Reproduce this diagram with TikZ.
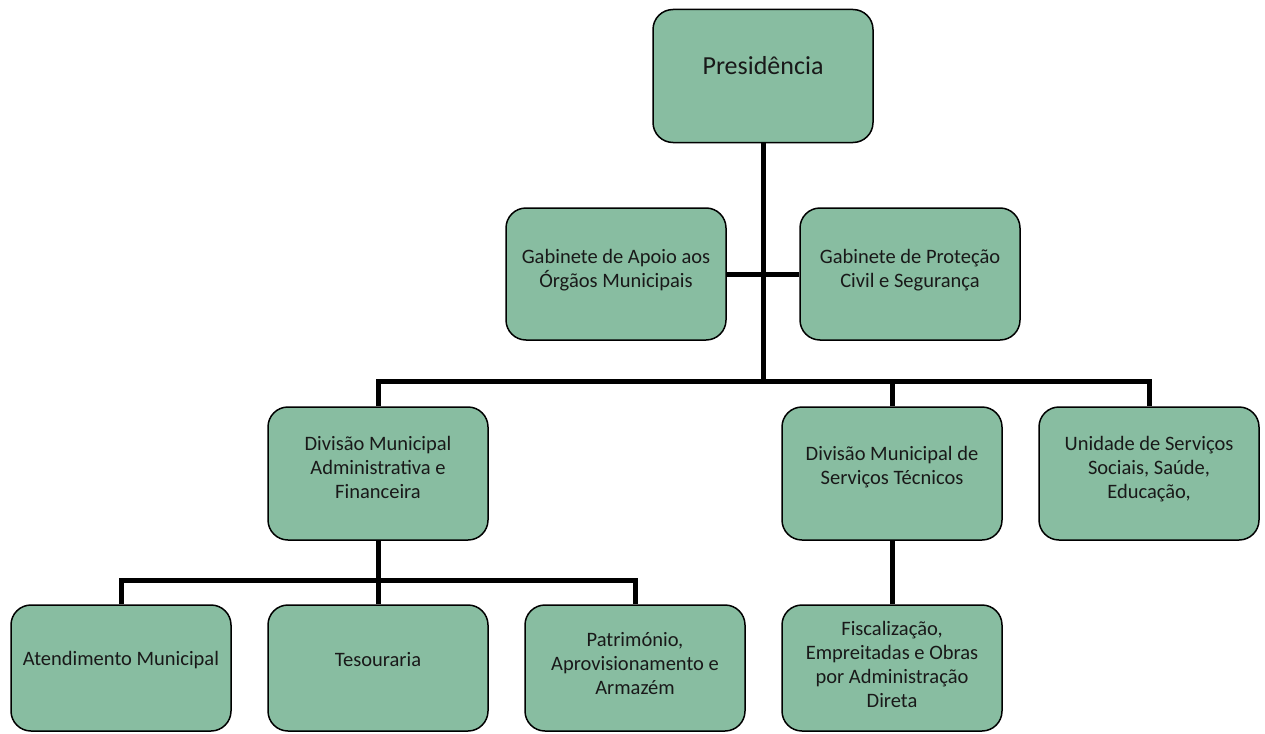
\documentclass[tikz,border=0pt]{standalone}
\usepackage{fontspec}
\setmainfont{Carlito}
\definecolor{boxgreen}{RGB}{136,189,161}
\tikzset{
  orgbox/.style={draw=black, line width=1.5pt, fill=boxgreen, rounded corners=20pt,
    minimum width=220pt, minimum height=133pt, inner sep=0pt},
  lowbox/.style={orgbox, minimum height=126pt},
  boxtext/.style={align=center, font=\fontsize{20.5pt}{24pt}\selectfont, inner sep=0pt, text=black!90},
  conn/.style={draw=black, line width=5pt, line join=miter}
}
\begin{document}
\begin{tikzpicture}[x=1pt,y=-1pt]
\useasboundingbox (0,0) rectangle (1265,733);
% boxes
\node[orgbox] (pres) at (763,76) {};
\node[orgbox, minimum height=132pt] (apoio) at (616,274) {};
\node[orgbox, minimum height=132pt] (protec) at (910,274) {};
\node[orgbox] (divadm) at (378,473.5) {};
\node[orgbox] (divtec) at (892,473.5) {};
\node[orgbox] (unid) at (1149,473.5) {};
\node[lowbox] (atend) at (121,668) {};
\node[lowbox] (tes) at (378,668) {};
\node[lowbox] (patr) at (635,668) {};
\node[lowbox] (fisc) at (892,668) {};
% junctions
\coordinate (j1) at (763,381);
\coordinate (j2) at (378,580);
% connectors
\draw[conn] (pres.south) -- (j1);
\draw[conn] (apoio.east) -- (protec.west);
\draw[conn] (divadm.north) |- (unid.north |- j1) -- (unid.north);
\draw[conn] (divtec.north) -- (divtec.north |- j1);
\draw[conn] (divadm.south) -- (j2);
\draw[conn] (atend.north) |- (patr.north |- j2) -- (patr.north);
\draw[conn] (tes.north) -- (tes.north |- j2);
\draw[conn] (divtec.south) -- (fisc.north);
% texts
\node[boxtext, font=\fontsize{26pt}{30pt}\selectfont] (presT) at (763,66) {Presidência};
\node[boxtext] (apoioT) at (616,270) {Gabinete de Apoio aos\\Órgãos Municipais};
\node[boxtext] (protecT) at (910,270) {Gabinete de Proteção\\Civil e Segurança};
\node[boxtext] (divadmT) at (378,467) {Divisão Municipal\\Administrativa e\\Financeira};
\node[boxtext] (divtecT) at (892,467) {Divisão Municipal de\\Serviços Técnicos};
\node[boxtext] (unidT) at (1149,469) {Unidade de Serviços\\Sociais, Saúde,\\Educação,};
\node[boxtext] (atendT) at (121,660) {Atendimento Municipal};
\node[boxtext] (tesT) at (378,660) {Tesouraria};
\node[boxtext] (patrT) at (635,664) {Património,\\Aprovisionamento e\\Armazém};
\node[boxtext] (fiscT) at (892,664) {Fiscalização,\\Empreitadas e Obras\\por Administração\\Direta};
\end{tikzpicture}
\end{document}
